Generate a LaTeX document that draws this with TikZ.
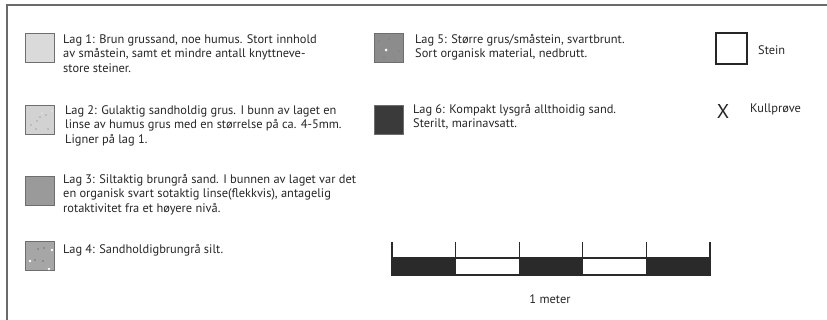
\documentclass[tikz,border=0pt]{standalone}
\usepackage{fontspec}
\setmainfont{PT Sans}
\definecolor{frame}{HTML}{6A6A6A}
\definecolor{txt}{HTML}{262626}
\definecolor{edge}{HTML}{6E6E6E}
\definecolor{lagA}{HTML}{DADADA}
\definecolor{lagB}{HTML}{D2D2D2}
\definecolor{lagC}{HTML}{9A9A9A}
\definecolor{lagD}{HTML}{A6A6A6}
\definecolor{lagE}{HTML}{8C8C8C}
\definecolor{lagF}{HTML}{3A3A3A}
\definecolor{barblack}{HTML}{2A2A2A}
\begin{document}
\begin{tikzpicture}[x=1pt,y=-1pt,
  swatch/.style={draw=edge, line width=1.3pt, minimum size=29pt, inner sep=0pt, anchor=north west},
  lbl/.style={anchor=north west, align=left, inner sep=0pt, text=txt, font=\fontsize{12.4}{14.6}\selectfont},
  speck/.style={fill=white},
  grain/.style={fill=black!55},
]
\useasboundingbox (0,0) rectangle (827,320);
% outer frame (top and left edges)
\draw[frame, line width=1.4pt] (7,320) -- (7,5) -- (827,5);

% layer swatches
\node[swatch, fill=lagA] (s1) at (25,33) {};
\node[swatch, fill=lagB] (s2) at (25,105) {};
\node[swatch, fill=lagC] (s3) at (25,176) {};
\node[swatch, fill=lagD] (s4) at (25,241) {};
\node[swatch, fill=lagE] (s5) at (374,33) {};
\node[swatch, fill=lagF] (s6) at (374,105) {};

% grains in the dotted swatches
\foreach \p in {(6,20),(12,16),(15,12),(21,10),(23,24),(11,24)}
  \fill[grain] ([shift={\p}]s2.north west) circle (0.6);
\foreach \p in {(17,8),(27,6)}
  \fill[speck] ([shift={\p}]s2.north west) circle (0.7);
\foreach \p in {(13,8),(19,7),(18,20),(10,19)}
  \fill[grain] ([shift={\p}]s4.north west) circle (0.8);
\foreach \p in {(5,20),(27,9),(24,28)}
  \fill[speck] ([shift={\p}]s4.north west) circle (1.3);
\foreach \p in {(5,8),(10,24),(15,6),(25,18),(21,28)}
  \fill[grain] ([shift={\p}]s5.north west) circle (0.6);
\fill[speck] ([shift={(12,17)}]s5.north west) circle (1.5);

% layer descriptions
\node[lbl] (t1) at (63,34) {Lag 1: Brun grussand, noe humus. Stort innhold\\av småstein, samt et mindre antall knyttneve-\\store steiner.};
\node[lbl] (t2) at (65,105) {Lag 2: Gulaktig sandholdig grus. I bunn av laget en\\linse av humus grus med en størrelse på ca. 4-5mm.\\Ligner på lag 1.};
\node[lbl] (t3) at (63,174) {Lag 3: Siltaktig brungrå sand. I bunnen av laget var det\\en organisk svart sotaktig linse(flekkvis), antagelig\\rotaktivitet fra et høyere nivå.};
\node[lbl] (t4) at (63,244) {Lag 4: Sandholdigbrungrå silt.};
\node[lbl] (t5) at (415,34) {Lag 5: Større grus/småstein, svartbrunt.\\Sort organisk material, nedbrutt.};
\node[lbl] (t6) at (413,104) {Lag 6: Kompakt lysgrå allthoidig sand.\\Sterilt, marinavsatt.};

% symbols
\node[swatch, draw=txt, line width=1.8pt, fill=white, minimum size=31pt] (stone) at (715,32) {};
\node[lbl, anchor=west] (tstone) at (758,50) {Stein};
\node[text=txt, inner sep=0pt, font=\fontsize{20}{20}\selectfont] (cross) at (723,112) {X};
\node[lbl, anchor=west] (tcross) at (750,109) {Kullprøve};

% scale bar: five alternating blocks with end ticks
\foreach \i in {0,...,4} {
  \pgfmathsetmacro{\xa}{392+63.6*\i}
  \pgfmathsetmacro{\xb}{392+63.6*(\i+1)}
  \ifodd\i
    \draw[barblack, line width=1.3pt, fill=white] (\xa,258) rectangle (\xb,275);
  \else
    \draw[barblack, line width=1.3pt, fill=barblack] (\xa,258) rectangle (\xb,275);
  \fi
}
\foreach \i in {0,...,5}
  \draw[barblack, line width=1.3pt] ({392+63.6*\i},242) -- ({392+63.6*\i},258);
\node[lbl, anchor=center] (tscale) at (550,299) {1 meter};
\end{tikzpicture}
\end{document}
